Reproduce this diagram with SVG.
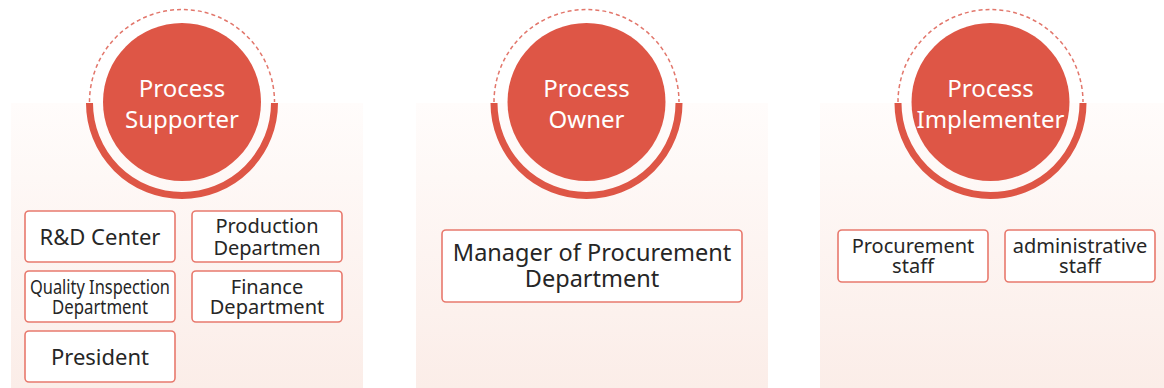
<svg xmlns="http://www.w3.org/2000/svg" width="1164" height="388" viewBox="0 0 1164 388">
<defs>
<linearGradient id="panelGrad" x1="0" y1="0" x2="0" y2="1">
<stop offset="0" stop-color="#fffcfb"/>
<stop offset="1" stop-color="#fbede8"/>
</linearGradient>
<style>
.panel{fill:url(#panelGrad);}
.disc{fill:#de5646;}
.ring{fill:none;stroke:#de5646;stroke-width:7;}
.dash{fill:none;stroke:#e2766b;stroke-width:1.5;stroke-dasharray:4 3;}
.title{font-family:"Noto Sans","Open Sans","DejaVu Sans",sans-serif;font-size:24px;fill:#ffffff;text-anchor:middle;}
.box{fill:#ffffff;stroke:#e8796d;stroke-width:1.6;}
.lbl{font-family:"Noto Sans","Open Sans","DejaVu Sans",sans-serif;fill:#262626;text-anchor:middle;}
.l23{font-size:23.5px;}
.l22{font-size:22px;}
.l20{font-size:20px;}
</style>
</defs>
<rect width="1164" height="388" fill="#ffffff"/>
<g id="panels">
<rect class="panel" x="11" y="103" width="352" height="285"/>
<rect class="panel" x="416" y="103" width="352" height="285"/>
<rect class="panel" x="820" y="103" width="352" height="285"/>
</g>
<g id="supporter">
<path class="dash" d="M89.5 102 A92.5 92.5 0 0 1 274.5 102"/>
<path class="ring" d="M89.5 103 A92.5 92.5 0 0 0 274.5 103"/>
<circle class="disc" cx="182" cy="102" r="79"/>
<text class="title" x="182" y="97">Process</text>
<text class="title" x="182" y="128">Supporter</text>
</g>
<g id="owner">
<path class="dash" d="M494 102 A92.5 92.5 0 0 1 679 102"/>
<path class="ring" d="M494 103 A92.5 92.5 0 0 0 679 103"/>
<circle class="disc" cx="586.5" cy="102" r="79"/>
<text class="title" x="586.5" y="97">Process</text>
<text class="title" x="586.5" y="128">Owner</text>
</g>
<g id="implementer">
<path class="dash" d="M898 102 A92.5 92.5 0 0 1 1083 102"/>
<path class="ring" d="M898 103 A92.5 92.5 0 0 0 1083 103"/>
<circle class="disc" cx="990.5" cy="102" r="79"/>
<text class="title" x="990.5" y="97">Process</text>
<text class="title" x="990.5" y="128">Implementer</text>
</g>
<g id="rd-center">
<rect class="box" x="25" y="211" width="150" height="51" rx="4"/>
<text class="lbl l22" x="100" y="245">R&amp;D Center</text>
</g>
<g id="production">
<rect class="box" x="192" y="211" width="150" height="51" rx="4"/>
<text class="lbl l20" x="267" y="233">Production</text>
<text class="lbl l20" x="267" y="255">Departmen</text>
</g>
<g id="quality">
<rect class="box" x="25" y="271" width="150" height="51" rx="4"/>
<text class="lbl l20" x="100" y="294" textLength="140" lengthAdjust="spacingAndGlyphs">Quality Inspection</text>
<text class="lbl l20" x="100" y="314" textLength="96" lengthAdjust="spacingAndGlyphs">Department</text>
</g>
<g id="finance">
<rect class="box" x="192" y="271" width="150" height="51" rx="4"/>
<text class="lbl l20" x="267" y="294">Finance</text>
<text class="lbl l20" x="267" y="314">Department</text>
</g>
<g id="president">
<rect class="box" x="25" y="331" width="150" height="51" rx="4"/>
<text class="lbl l22" x="100" y="365">President</text>
</g>
<g id="manager">
<rect class="box" x="442" y="230" width="300" height="72" rx="4"/>
<text class="lbl l23" x="592" y="261">Manager of Procurement</text>
<text class="lbl l23" x="592" y="287">Department</text>
</g>
<g id="procurement-staff">
<rect class="box" x="838" y="230" width="150" height="52" rx="4"/>
<text class="lbl l20" x="913" y="253">Procurement</text>
<text class="lbl l20" x="913" y="273">staff</text>
</g>
<g id="admin-staff">
<rect class="box" x="1005" y="230" width="150" height="52" rx="4"/>
<text class="lbl l20" x="1080" y="253">administrative</text>
<text class="lbl l20" x="1080" y="273">staff</text>
</g>
<g id="connectors"></g>
</svg>
